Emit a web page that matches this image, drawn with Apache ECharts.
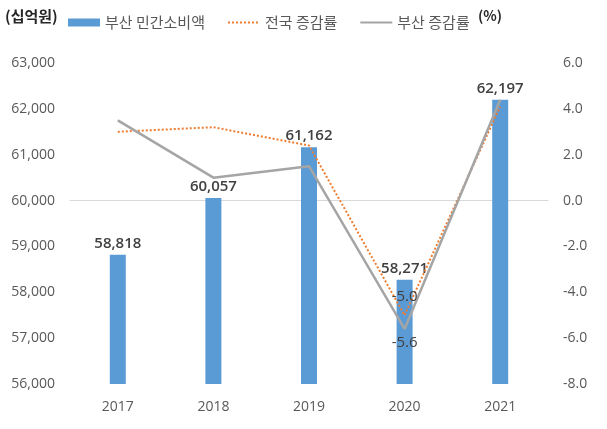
<!DOCTYPE html>
<html><head><meta charset="utf-8">
<script src="https://cdn.jsdelivr.net/npm/echarts@6/dist/echarts.min.js"></script>
<style>html,body{margin:0;padding:0;background:#fff}#c{width:607px;height:429px}</style>
</head><body><div id="c"></div>
<script>
const categories = ['2017', '2018', '2019', '2020', '2021'];
const busanConsumption = [58818, 60057, 61162, 58271, 62197];
const nationalGrowth = [3.0, 3.2, 2.4, -5.0, 4.1];
const busanGrowth = [3.5, 1.0, 1.5, -5.6, 4.4];
const seriesNames = ['부산 민간소비액', '전국 증감률', '부산 증감률'];

const numFont = '"Open Sans", Lato, sans-serif';
const krFont = '"Noto Sans CJK KR", sans-serif';

const chart = echarts.init(document.getElementById('c'), null, {renderer: 'canvas'});
chart.setOption({
  animation: false,
  backgroundColor: '#fff',
  grid: {left: 70, right: 59, top: 63, bottom: 45},
  graphic: [
    {type: 'text', left: 5, top: 9, style: {text: '(십억원)', font: 'bold 15px ' + krFont, fill: '#262626'}},
    {type: 'text', left: 478, top: 9, style: {text: '(%)', font: 'bold 14px ' + krFont, fill: '#262626'}}
  ],
  legend: {
    top: 10, left: 63, itemGap: 22, itemWidth: 32, itemHeight: 8,
    textStyle: {fontFamily: krFont, fontSize: 15, color: '#595959'},
    data: [
      {name: seriesNames[0], icon: 'rect'},
      {name: seriesNames[1], itemStyle: {opacity: 0}},
      {name: seriesNames[2], itemStyle: {opacity: 0}}
    ]
  },
  xAxis: {
    type: 'category', data: categories,
    axisLine: {lineStyle: {color: '#d9d9d9', width: 1}},
    axisTick: {show: false},
    axisLabel: {fontFamily: numFont, fontSize: 14, color: '#595959', margin: 16}
  },
  yAxis: [
    {type: 'value', min: 56000, max: 63000, interval: 1000,
     splitLine: {show: false}, axisLine: {show: false}, axisTick: {show: false},
     axisLabel: {fontFamily: numFont, fontSize: 14, color: '#595959', margin: 15,
       formatter: v => v.toLocaleString('en-US')}},
    {type: 'value', min: -8, max: 6, interval: 2,
     splitLine: {show: false}, axisLine: {show: false}, axisTick: {show: false},
     axisLabel: {fontFamily: numFont, fontSize: 14, color: '#595959', margin: 15,
       formatter: v => v.toFixed(1)}}
  ],
  series: [
    {name: seriesNames[0], type: 'bar', data: busanConsumption, barWidth: 16,
     itemStyle: {color: '#5B9BD5'},
     label: {show: true, position: 'top', distance: 4, fontFamily: numFont, fontSize: 15, fontWeight: 600, color: '#404040',
       formatter: p => p.value.toLocaleString('en-US')}},
    {name: seriesNames[1], type: 'line', yAxisIndex: 1, data: nationalGrowth,
     symbol: 'circle', symbolSize: 1, showSymbol: true, showAllSymbol: true,
     lineStyle: {color: '#ED7D31', width: 2, type: [2, 2]}, itemStyle: {color: 'rgba(0,0,0,0)'},
     label: {show: true, position: 'top', distance: 10, fontFamily: numFont, fontSize: 15, color: '#404040',
       formatter: p => p.dataIndex === 3 ? p.value.toFixed(1) : ''}},
    {name: seriesNames[2], type: 'line', yAxisIndex: 1, data: busanGrowth,
     symbol: 'circle', symbolSize: 1, showSymbol: true, showAllSymbol: true,
     lineStyle: {color: '#A5A5A5', width: 2.5}, itemStyle: {color: 'rgba(0,0,0,0)'},
     label: {show: true, position: 'bottom', distance: 6, fontFamily: numFont, fontSize: 15, color: '#404040',
       formatter: p => p.dataIndex === 3 ? p.value.toFixed(1) : ''}}
  ]
});
</script></body></html>
